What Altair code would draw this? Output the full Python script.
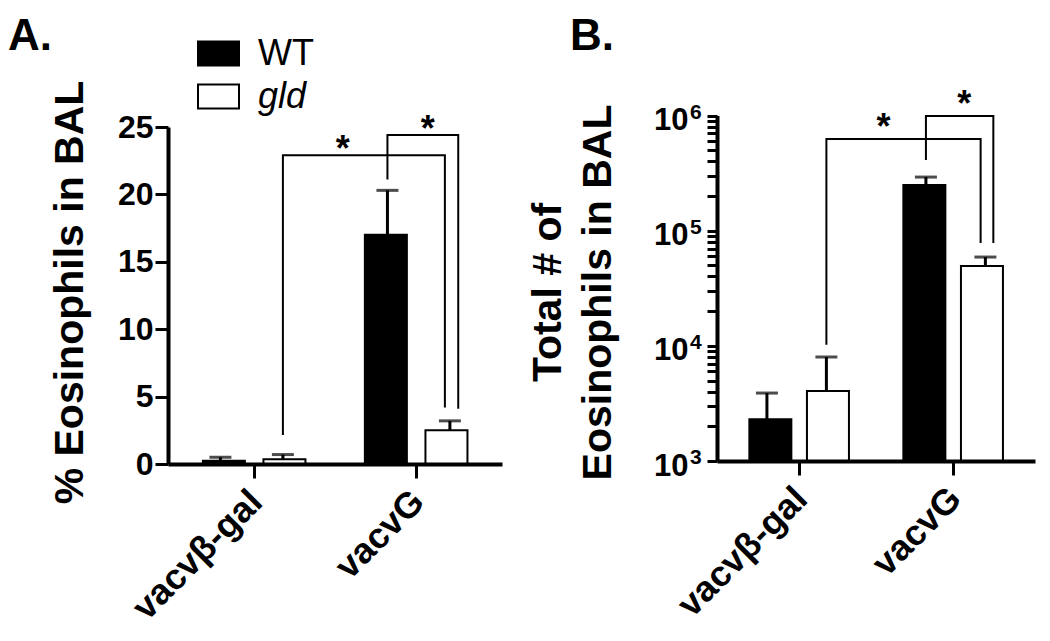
import altair as alt
import pandas as pd

FONT = "Liberation Sans"

# ---------------- data ----------------
groups = ["vacvβ-gal", "vacvG"]
series = ["WT", "gld"]

# Panel A: % eosinophils in BAL (mean and SEM)
pct_wt = [0.25, 17.0]
pct_wt_sem = [0.25, 3.3]
pct_gld = [0.35, 2.5]
pct_gld_sem = [0.35, 0.7]

# Panel B: total number of eosinophils in BAL (mean and SEM)
tot_wt = [2300, 249000]
tot_wt_sem = [1590, 43000]
tot_gld = [4050, 49300]
tot_gld_sem = [3950, 9700]

# significance brackets: from (group, series) to (group, series)
brk_from = [("vacvβ-gal", "gld"), ("vacvG", "WT")]
brk_to = [("vacvG", "gld"), ("vacvG", "gld")]
brk_text = ["*", "*"]
pct_brk_start = [2.15, 21.1]
pct_brk_top = [22.9, 24.4]
pct_brk_end = [4.2, 4.1]
tot_brk_start = [10200, 410000]
tot_brk_top = [624000, 989000]
tot_brk_end = [78000, 78000]

pct_ticks = [0, 5, 10, 15, 20, 25]
decades = [1000, 10000, 100000, 1000000]
decade_exp = ["3", "4", "5", "6"]
log_ticks = [k * 10 ** e for e in (3, 4, 5) for k in range(1, 10)] + [1000000]

# ---------------- layout / style ----------------
W, H = 1034, 625
SERIES_OFFSET = {"WT": -0.186, "gld": 0.188}
END_NUDGE = [-0.03, 0.05]
STAR_FRAC = [0.37, 0.57]


def xpos(g, s):
    return groups.index(g) + 1 + SERIES_OFFSET[s]


def bar_table(wt, wt_sem, gld, gld_sem):
    rows = []
    for i, g in enumerate(groups):
        for s, m, e in (("WT", wt[i], wt_sem[i]), ("gld", gld[i], gld_sem[i])):
            rows.append(dict(group=g, series=s, x=xpos(g, s), mean=m, upper=m + e))
    return pd.DataFrame(rows)


def bracket_tables(start, top, end):
    pts, stars = [], []
    for k, (a, b) in enumerate(zip(brk_from, brk_to)):
        x0 = xpos(*a)
        x1 = xpos(*b) + END_NUDGE[k]
        for j, (x, y) in enumerate([(x0, start[k]), (x0, top[k]), (x1, top[k]), (x1, end[k])]):
            pts.append(dict(bracket=k, order=j, x=x, y=y))
        stars.append(dict(bracket=k, x=x0 + STAR_FRAC[k] * (x1 - x0), y=top[k], text=brk_text[k]))
    return pd.DataFrame(pts), pd.DataFrame(stars)


def text_label(txt, x, y, size):
    return alt.Chart(pd.DataFrame({"t": [txt]})).mark_text(
        font=FONT, fontSize=size, fontWeight="bold", align="left", baseline="alphabetic", color="black"
    ).encode(x=alt.value(x), y=alt.value(y), text="t:N")


AX = dict(grid=False, domainColor="black", tickColor="black", labelColor="black", titleColor="black",
          labelFont=FONT, titleFont=FONT, labelFontWeight="bold", titleFontWeight="bold",
          domainWidth=4, tickWidth=3, labelOverlap=False, labelFlush=False, labelLimit=500, zindex=1)


def panel(bars, brk, stars, xs, ys, xaxis, yaxis, base, star_dy, legend):
    X = lambda ax=None: alt.X("x:Q", scale=xs, axis=ax)
    fill = alt.Fill("series:N", scale=alt.Scale(domain=series, range=["black", "white"]), legend=legend)
    bar = alt.Chart(bars).mark_bar(size=42, stroke="black", strokeWidth=2).encode(
        x=X(xaxis), y=alt.Y("mean:Q", scale=ys, axis=yaxis), y2=alt.datum(base), fill=fill
    )
    err = alt.Chart(bars).mark_rule(color="black", strokeWidth=3).encode(
        x=X(), y=alt.Y("mean:Q", scale=ys, axis=None), y2="upper:Q"
    )
    cap = alt.Chart(bars).mark_tick(orient="horizontal", size=22, thickness=3, color="black").encode(
        x=X(), y=alt.Y("upper:Q", scale=ys, axis=None)
    )
    line = alt.Chart(brk).mark_line(color="black", strokeWidth=2, strokeJoin="miter").encode(
        x=X(), y=alt.Y("y:Q", scale=ys, axis=None), detail="bracket:N", order="order:Q"
    )
    star = alt.Chart(stars).mark_text(
        font=FONT, fontSize=36, fontWeight="bold", baseline="alphabetic", align="center", dy=star_dy, color="black"
    ).encode(x=X(), y=alt.Y("y:Q", scale=ys, axis=None), text="text:N")
    return [bar, err, cap, line, star]


x_label_expr = f"datum.value == 1 ? '{groups[0]}' : '{groups[1]}'"
XLAB = dict(labelAngle=315, labelAlign="right", labelBaseline="top", labelPadding=6, labelOffset=-10,
            labelFontSize=36, tickSize=14)

# ---------------- panel A ----------------
bars_a = bar_table(pct_wt, pct_wt_sem, pct_gld, pct_gld_sem)
brk_a, stars_a = bracket_tables(pct_brk_start, pct_brk_top, pct_brk_end)
xs_a = alt.Scale(domain=[0.5, 2.5], range=[160, 494], nice=False, zero=False)
ys_a = alt.Scale(domain=[0, 25], range=[456, 119], nice=False)
xaxis_a = alt.Axis(orient="bottom", offset=456 - H, values=[1, 2], labelExpr=x_label_expr, title=None,
                   **XLAB, **AX)
yaxis_a = alt.Axis(orient="left", offset=-160, values=pct_ticks, title="% Eosinophils in BAL",
                   titleX=-86, titleY=284, titleAngle=270, titleAlign="center", titleBaseline="alphabetic",
                   titleFontSize=41, titleLimit=1000, labelFontSize=32, labelPadding=2, tickSize=13, **AX)
legend = alt.Legend(orient="none", legendX=189, legendY=24, title=None, padding=0,
                    symbolType="M-1,-0.59H1V0.59H-1Z", symbolSize=1681, symbolStrokeColor="black",
                    symbolStrokeWidth=2, labelFont=FONT, labelFontSize=36, labelColor="black",
                    labelFontStyle=alt.ExprRef(expr="datum.label == 'gld' ? 'italic' : 'normal'"),
                    labelOffset=18, rowPadding=3)
layers_a = panel(bars_a, brk_a, stars_a, xs_a, ys_a, xaxis_a, yaxis_a, 0, 6, legend)

# ---------------- panel B ----------------
bars_b = bar_table(tot_wt, tot_wt_sem, tot_gld, tot_gld_sem)
brk_b, stars_b = bracket_tables(tot_brk_start, tot_brk_top, tot_brk_end)
xs_b = alt.Scale(domain=[0.5, 2.5], range=[709, 1027], nice=False, zero=False)
ys_b = alt.Scale(type="log", domain=[1000, 1000000], range=[453, 107.5], nice=False)
decade_list = "[" + ",".join(str(d) for d in decades) + "]"
xaxis_b = alt.Axis(orient="bottom", offset=453 - H, values=[1, 2], labelExpr=x_label_expr, title=None,
                   **XLAB, **AX)
yaxis_b = alt.Axis(orient="left", offset=-709, values=log_ticks,
                   labelExpr=f"indexof({decade_list}, datum.value) >= 0 ? '10' : ''",
                   title=["Total # of", "Eosinophils in BAL"], titleX=-157, titleY=284, titleAngle=270,
                   titleAlign="center", titleBaseline="alphabetic", titleLineHeight=50, titleLimit=1000,
                   titleFontSize=41, labelFontSize=31, labelPadding=19, labelOffset=5, tickSize=10, **AX)
exp_b = alt.Chart(pd.DataFrame({"v": decades, "e": decade_exp})).mark_text(
    font=FONT, fontSize=21, fontWeight="bold", align="left", baseline="middle", dy=-3, color="black"
).encode(x=alt.value(682), y=alt.Y("v:Q", scale=ys_b, axis=None), text="e:N")
layers_b = panel(bars_b, brk_b, stars_b, xs_b, ys_b, xaxis_b, yaxis_b, 1000, 0, None)

chart = (
    alt.layer(*layers_a, *layers_b, exp_b, text_label("A.", 0, 42, 44), text_label("B.", 562, 42, 44))
    .resolve_scale(x="independent", y="independent")
    .properties(width=W, height=H, padding=0, autosize=alt.AutoSizeParams(type="none"),
                background="white")
    .configure_view(stroke=None)
)

chart.save("out.html", embed_options={"renderer": "svg", "actions": False})
